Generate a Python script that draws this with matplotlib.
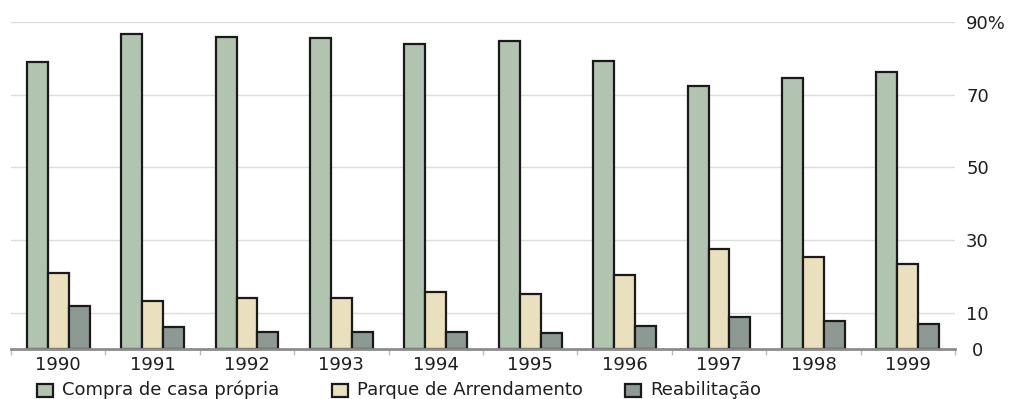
import matplotlib
matplotlib.use("Agg")
import matplotlib.pyplot as plt
import matplotlib.transforms as mtransforms
import numpy as np
from matplotlib.patches import Rectangle

# shares per year (%)
years = ['1990', '1991', '1992', '1993', '1994', '1995', '1996', '1997', '1998', '1999']
compra = [79.1, 86.6, 85.9, 85.7, 84.0, 84.7, 79.4, 72.3, 74.5, 76.3]
arrendamento = [20.8, 13.1, 14.0, 14.1, 15.7, 15.2, 20.5, 27.6, 25.2, 23.5]
reabilitacao = [11.7, 6.1, 4.8, 4.8, 4.8, 4.5, 6.3, 8.7, 7.6, 6.9]

series_names = ['Compra de casa própria', 'Parque de Arrendamento', 'Reabilitação']
colors = ['#b1c4b0', '#ebe0bd', '#8d9a93']

ytick_vals = [0, 10, 30, 50, 70, 90]
ytick_labels = ['0', '10', '30', '50', '70', '90%']

plt.rcParams['font.family'] = 'DejaVu Sans'
FS = 13
TXT = '#1e1e1e'

W, H = 1010, 399
fig = plt.figure(figsize=(W / 100, H / 100), dpi=100)
ax = fig.add_axes([11 / W, 1 - 349 / H, 944 / W, 327 / H])

x = np.arange(len(years))
w = 0.222
for i, (vals, c) in enumerate(zip([compra, arrendamento, reabilitacao], colors)):
    ax.bar(x + (i - 1) * w, vals, width=w, color=c, edgecolor='#1a1a1a',
           linewidth=1.6, zorder=3)

ax.set_xlim(-0.5, len(years) - 0.5)
ax.set_ylim(0, 90)

# horizontal grid, skip the baseline
for v in ytick_vals[1:]:
    ax.axhline(v, color='#dcdcdc', linewidth=1, zorder=1)

for s in ['top', 'left', 'right']:
    ax.spines[s].set_visible(False)
ax.spines['bottom'].set_color('#8c8c8c')
ax.spines['bottom'].set_linewidth(2)
ax.spines['bottom'].set_zorder(4)

ax.set_xticks(x)
ax.set_xticklabels(years, fontsize=FS, color=TXT)
ax.set_xticks(np.arange(len(years) + 1) - 0.5, minor=True)
ax.tick_params(axis='x', which='major', length=0, pad=5)
ax.tick_params(axis='x', which='minor', length=4, color='#bbbbbb', width=1)

ax.yaxis.tick_right()
ax.set_yticks(ytick_vals)
ax.set_yticklabels(ytick_labels, fontsize=FS, color=TXT)
ax.tick_params(axis='y', length=0, pad=8)

# single-digit zero sits under the units column of "10"
zero_lbl = ax.get_yticklabels()[0]
zero_lbl.set_transform(zero_lbl.get_transform() +
                       mtransforms.ScaledTranslation(6 / 100, 0, fig.dpi_scale_trans))

# legend row along the bottom, laid out in pixels
legend_x = [37, 332, 625]
for lx, name, c in zip(legend_x, series_names, colors):
    fig.add_artist(Rectangle((lx / W, 1 - 397 / H), 16 / W, 13 / H,
                             facecolor=c, edgecolor='#1a1a1a', linewidth=1.6,
                             transform=fig.transFigure))
    fig.text((lx + 25) / W, 1 - 390 / H, name, fontsize=FS, color=TXT,
             ha='left', va='center')

fig.savefig('out.png', dpi=100, facecolor='white')
